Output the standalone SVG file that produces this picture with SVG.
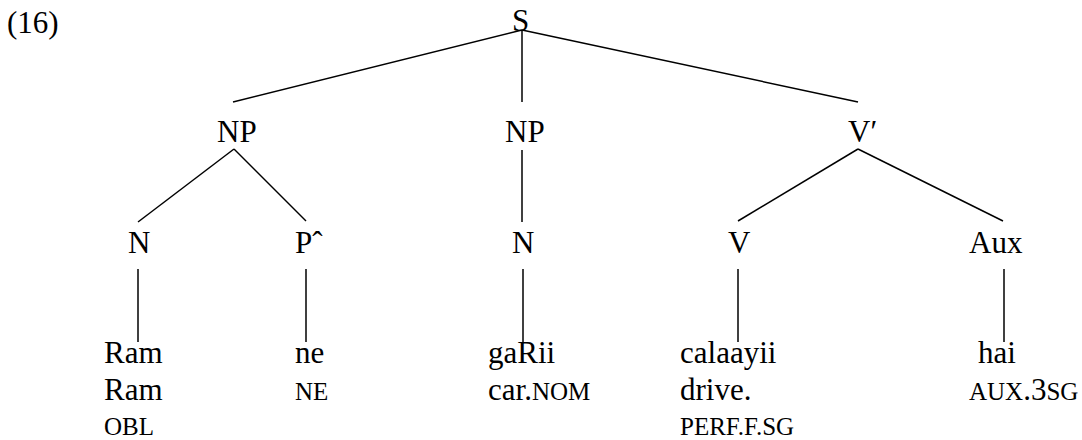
<svg xmlns="http://www.w3.org/2000/svg" width="1082" height="440" viewBox="0 0 1082 440">
<style>
text{font-family:'Liberation Serif','Times New Roman','DejaVu Serif',serif;font-size:31px;fill:#000}
.sc{font-size:25px}
line{stroke:#000;stroke-width:1.5;stroke-linecap:butt}
</style>
<rect width="1082" height="440" fill="#fff"/>
<text id="label" x="7" y="33" font-family="Liberation Serif, serif">(16)</text>
<g id="connectors">
<line x1="522" y1="30" x2="233" y2="102"/>
<line x1="522" y1="30" x2="522" y2="102"/>
<line x1="522" y1="30" x2="858" y2="102"/>
<line x1="234" y1="149" x2="138" y2="222"/>
<line x1="234" y1="149" x2="306" y2="221"/>
<line x1="522" y1="150" x2="522" y2="222"/>
<line x1="858" y1="149" x2="738" y2="221"/>
<line x1="858" y1="149" x2="1003" y2="221"/>
<line x1="138" y1="269" x2="138" y2="342"/>
<line x1="306" y1="269" x2="306" y2="342"/>
<line x1="523" y1="269" x2="523" y2="342"/>
<line x1="738" y1="269" x2="738" y2="342"/>
<line x1="1004" y1="269" x2="1004" y2="342"/>
</g>
<g id="node-S"><text x="512" y="31">S</text></g>
<g id="node-NP1"><text x="217" y="142">NP</text></g>
<g id="node-NP2"><text x="505" y="142">NP</text></g>
<g id="node-Vbar"><text x="848" y="142">V′</text></g>
<g id="node-N1"><text x="128" y="253">N</text></g>
<g id="node-P"><text x="295" y="253">Pˆ</text></g>
<g id="node-N2"><text x="512" y="253">N</text></g>
<g id="node-V"><text x="728" y="253">V</text></g>
<g id="node-Aux"><text x="969" y="253">Aux</text></g>
<g id="leaf-Ram">
<text x="104" y="363">Ram</text>
<text x="104" y="400">Ram</text>
<text class="sc" x="104" y="435">OBL</text>
</g>
<g id="leaf-ne">
<text x="295" y="363">ne</text>
<text class="sc" x="295" y="400">NE</text>
</g>
<g id="leaf-gaRii">
<text x="488" y="363">gaRii</text>
<text x="488" y="400">car.<tspan class="sc">NOM</tspan></text>
</g>
<g id="leaf-calaayii">
<text x="680" y="363">calaayii</text>
<text x="680" y="400">drive.</text>
<text class="sc" x="680" y="435">PERF.F.SG</text>
</g>
<g id="leaf-hai">
<text x="978" y="363">hai</text>
<text x="969" y="400"><tspan class="sc">AUX</tspan>.3<tspan class="sc">SG</tspan></text>
</g>
</svg>
